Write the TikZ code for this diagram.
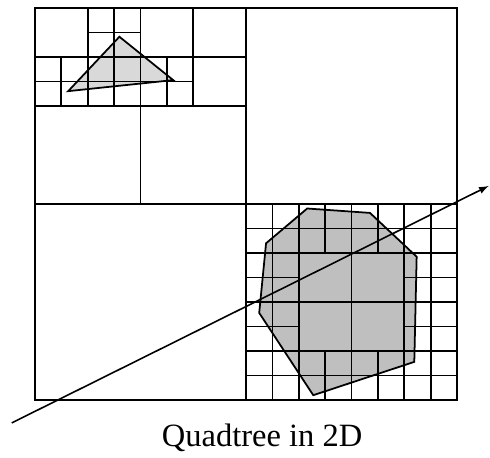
\documentclass[tikz,border=0pt]{standalone}
\usepackage{fontspec}
\setmainfont{Liberation Serif}
\usetikzlibrary{arrows}
\tikzset{cell/.style = {draw, line width = 1pt},
         solid/.style = {draw, line width = 1pt, fill = black!25},
         tri/.style = {draw, line width = 1pt, fill = black!15},
         ray/.style = {draw, line width = 0.9pt, -latex},
         caption/.style = {font = \fontsize{18.5}{22}\selectfont},
}

\begin{document}
\begin{tikzpicture}[x = 0.5275cm, y = 0.49cm]

  \useasboundingbox (-1.327,-2.327) rectangle (17.25,16.33);

  % objects
  \draw[tri] (3.20,14.83) -- (1.26,12.61) -- (5.24,13.06) -- cycle;
  \draw[solid] (10.32,7.82) -- (12.70,7.64) -- (14.47,5.85) -- (14.38,1.56)
     -- (10.55,0.20) -- (8.50,3.56) -- (8.76,6.40) -- cycle;

  % root and first level
  \draw[cell] (0,0) rectangle (16,16);
  \draw[cell] (8,0) -- (8,16);
  \draw[cell] (0,8) -- (16,8);

  % upper left quadrant
  \draw[cell] (4,8) -- (4,16);
  \draw[cell] (0,12) -- (8,12);
  \draw[cell] (0,14) -- (8,14);
  \draw[cell] (0,13) -- (6,13);
  \draw[cell] (2,15) -- (4,15);
  \foreach \x in {2,3,6}
    \draw[cell] (\x,12) -- (\x,16);
  \foreach \x in {1,5}
    \draw[cell] (\x,12) -- (\x,14);

  % lower right quadrant
  \foreach \t in {1,2,4,6,7} {
    \draw[cell] (8+\t,0) -- (8+\t,8);
    \draw[cell] (8,\t) -- (16,\t);
  }
  \foreach \t in {3,5} {
    \draw[cell] (8+\t,0) -- (8+\t,2);
    \draw[cell] (8+\t,6) -- (8+\t,8);
    \draw[cell] (8,\t) -- (10,\t);
    \draw[cell] (14,\t) -- (16,\t);
  }

  % ray
  \coordinate (start) at (-0.88,-0.93);
  \coordinate (end) at (17.2,8.74);
  \draw[ray] (start) -- (end);

  \node[caption] (title) at (8.61,-1.55) {Quadtree in 2D};

\end{tikzpicture}
\end{document}
